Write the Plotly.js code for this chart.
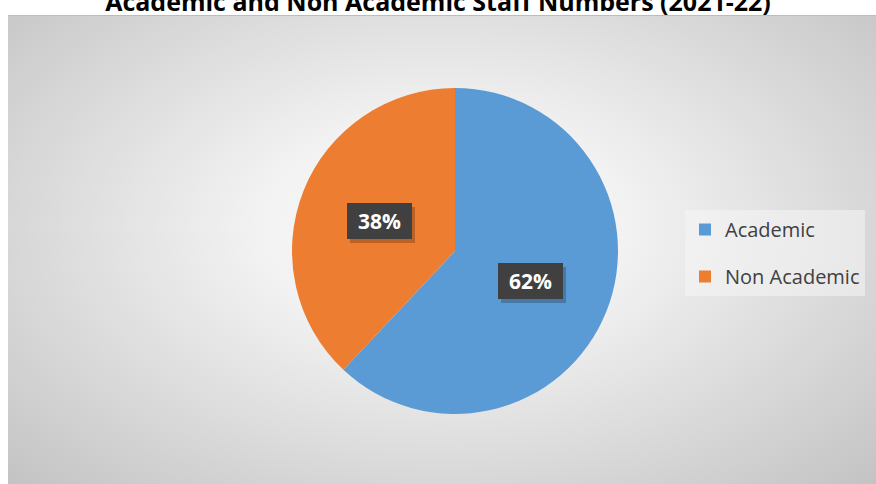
<!DOCTYPE html>
<html>
<head>
<meta charset="utf-8">
<script src="https://cdn.plot.ly/plotly-3.0.1.min.js"></script>
<style>
  html, body { margin: 0; padding: 0; background: #ffffff; }
  #wrap { position: relative; width: 876px; height: 484px; overflow: hidden; }
  #bg { position: absolute; left: 8px; top: 15px; width: 868px; height: 469px;
        background: radial-gradient(ellipse farthest-corner at 50% 45%, #fafafa 0%, #f2f2f2 30%, #c3c3c3 100%);
        border-top: 1px solid #bdbdbd; }
  #chart { position: absolute; left: 0; top: 0; width: 876px; height: 484px; }
</style>
</head>
<body>
<div id="wrap">
  <div id="bg"></div>
  <div id="chart"></div>
</div>
<script>
const titleText = "Academic and Non Academic Staff Numbers (2021-22)";
const categories = ["Academic", "Non Academic"];
const values = [62, 38];
const colors = ["#5B9BD5", "#ED7D31"];

const W = 876, H = 484;
const pieBox = { x0: 292, x1: 618, y0: 88, y1: 414 }; // pixel domain
const cx = (pieBox.x0 + pieBox.x1) / 2, cy = (pieBox.y0 + pieBox.y1) / 2;
const R = Math.min(pieBox.x1 - pieBox.x0, pieBox.y1 - pieBox.y0) / 2;

const total = values.reduce((a, b) => a + b, 0);
const traces = [{
  type: "pie",
  labels: categories,
  values: values,
  sort: false,
  direction: "clockwise",
  rotation: 0,
  textinfo: "none",
  hoverinfo: "label+percent",
  marker: { colors: colors, line: { width: 0 } },
  domain: { x: [pieBox.x0 / W, pieBox.x1 / W], y: [1 - pieBox.y1 / H, 1 - pieBox.y0 / H] },
  showlegend: false
}];
// legend entries
categories.forEach((c, i) => {
  traces.push({
    type: "scatter", x: [null], y: [null], mode: "markers", name: c,
    legendgroup: "g" + i, showlegend: true,
    marker: { symbol: "square", size: 12, color: colors[i] },
    hoverinfo: "skip"
  });
});

// percentage labels placed at half radius along slice mid-angle
const annotations = [];
let cum = 0;
values.forEach((v, i) => {
  const mid = (cum + v / 2) / total * 2 * Math.PI;
  cum += v;
  const px = cx + 0.5 * R * Math.sin(mid);
  const py = cy - 0.5 * R * Math.cos(mid);
  const pct = Math.round(v / total * 100) + "%";
  const base = { xref: "paper", yref: "paper", x: px / W, y: 1 - py / H,
    showarrow: false, width: 61, height: 32, borderpad: 2, borderwidth: 0,
    xanchor: "center", yanchor: "middle" };
  annotations.push(Object.assign({}, base, { text: "", bgcolor: "rgba(0,0,0,0.22)", xshift: 3, yshift: -4 }));
  annotations.push(Object.assign({}, base, { text: "<b>" + pct + "</b>", bgcolor: "#404040",
    font: { family: "Open Sans, sans-serif", size: 21, color: "#ffffff" } }));
});

const layout = {
  width: W, height: H,
  margin: { l: 0, r: 0, t: 0, b: 0 },
  paper_bgcolor: "rgba(0,0,0,0)",
  plot_bgcolor: "rgba(0,0,0,0)",
  title: { text: "<b>" + titleText + "</b>", x: 0.5, xanchor: "center", xref: "container",
    y: 1 - 2 / H, yanchor: "middle", yref: "container",
    font: { family: "Open Sans, sans-serif", size: 25, color: "#000000" } },
  xaxis: { visible: false, domain: [0.99, 1], fixedrange: true },
  yaxis: { visible: false, domain: [0.99, 1], fixedrange: true },
  showlegend: true,
  legend: { x: 685 / W, xanchor: "left", y: 1 - 210 / H, yanchor: "top",
    bgcolor: "rgba(245,245,245,0.55)", borderwidth: 0, tracegroupgap: 18,
    traceorder: "grouped", itemwidth: 30,
    font: { family: "Open Sans, sans-serif", size: 20, color: "#404040" } },
  annotations: annotations
};

Plotly.newPlot("chart", traces, layout, { displayModeBar: false, staticPlot: true });
</script>
</body>
</html>
